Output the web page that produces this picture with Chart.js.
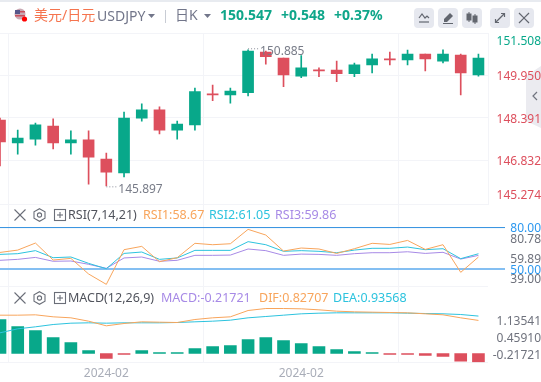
<!DOCTYPE html>
<html><head><meta charset="utf-8">
<script src="https://cdn.jsdelivr.net/npm/chart.js@4"></script>
<style>
html,body{margin:0;padding:0;background:#fff;width:541px;height:382px;overflow:hidden}
body{font-family:"Noto Sans","Noto Sans CJK SC",sans-serif;position:relative}
#c{position:absolute;left:0;top:0;z-index:2}
#tab{position:absolute;left:0;top:0;z-index:1}
.t{position:absolute;white-space:nowrap;z-index:3;line-height:16px}
.strip{position:absolute;left:0;top:0;width:541px;height:2px;background:#e8ebf0;z-index:3}
.btn{position:absolute;top:8px;width:20px;height:20px;border-radius:4px;background:#e6e8ef;z-index:3}
.ic{position:absolute;z-index:3}
</style></head><body>
<div class="strip"></div>
<svg id="tab" width="541" height="382"><polygon points="541,66 526,76 526,121 541,128" fill="#ebebf0"/><polyline points="537,92 533,96 537,100" fill="none" stroke="#70747f" stroke-width="1.2"/></svg>
<canvas id="c" width="541" height="382"></canvas>

<svg class="ic" style="left:13px;top:8px" width="16" height="16"><circle cx="7" cy="6" r="5.5" fill="#c9a9b4"/><rect x="2" y="3" width="10" height="1.5" fill="#c94f5c"/><rect x="2" y="7" width="10" height="1.5" fill="#c94f5c"/><rect x="2" y="2" width="5" height="4" fill="#56568a"/><circle cx="11.5" cy="11" r="2.6" fill="#f00"/></svg>
<div class="t" style="left:34px;top:7px;font-size:14px;color:#f5744e">美元/日元</div>
<div class="t" style="left:97px;top:8px;font-size:14px;color:#72768a">USDJPY</div>
<svg class="ic" style="left:148px;top:14px" width="8" height="5"><polygon points="0,0 7,0 3.5,4" fill="#72768a"/></svg>
<div class="ic" style="left:165px;top:10px;width:1px;height:13px;background:#c8ccd4"></div>
<div class="t" style="left:175px;top:7px;font-size:14px;color:#72768a">日K</div>
<svg class="ic" style="left:204px;top:14px" width="8" height="5"><polygon points="0,0 7,0 3.5,4" fill="#72768a"/></svg>
<div class="t" style="left:220px;top:7px;font-size:14px;font-weight:700;color:#0fa68a">150.547</div>
<div class="t" style="left:281px;top:7px;font-size:14px;font-weight:700;color:#0fa68a">+0.548</div>
<div class="t" style="left:334px;top:7px;font-size:14px;font-weight:700;color:#0fa68a">+0.37%</div>

<div class="btn" style="left:414px"></div><div class="btn" style="left:438px"></div><div class="btn" style="left:462px"></div><div class="btn" style="left:490px"></div><div class="btn" style="left:514px"></div>
<svg class="ic" style="left:414px;top:8px" width="20" height="20" fill="none" stroke="#62666f" stroke-width="1.2"><polyline points="5,10 8,6 11,10 13,8 15,10"/><line x1="5" y1="14" x2="15" y2="14"/></svg>
<svg class="ic" style="left:438px;top:8px" width="20" height="20"><polygon points="6,11 12,5 15,8 9,14 6,14" fill="#62666f"/><line x1="5" y1="15.5" x2="15" y2="15.5" stroke="#62666f"/></svg>
<svg class="ic" style="left:462px;top:8px" width="20" height="20" fill="#62666f" stroke="#62666f"><line x1="7" y1="4" x2="7" y2="14"/><rect x="5" y="6" width="4" height="6"/><line x1="13" y1="6" x2="13" y2="16"/><rect x="11" y="8" width="4" height="6"/></svg>
<svg class="ic" style="left:490px;top:8px" width="20" height="20" fill="none" stroke="#62666f" stroke-width="1.2"><line x1="6" y1="14" x2="14" y2="6"/><polyline points="11,5.5 14.5,5.5 14.5,9"/><polyline points="5.5,11 5.5,14.5 9,14.5"/></svg>
<svg class="ic" style="left:514px;top:8px" width="20" height="20" stroke="#62666f" stroke-width="1.2"><line x1="5" y1="5" x2="15" y2="15"/><line x1="15" y1="5" x2="5" y2="15"/></svg>

<svg class="ic" style="left:13px;top:208px" width="56" height="14" fill="none" stroke="#6a6e78" stroke-width="1.1"><line x1="1.5" y1="1.5" x2="12.5" y2="12.5"/><line x1="12.5" y1="1.5" x2="1.5" y2="12.5"/><polygon points="26.5,0.7 32,3.8 32,10.2 26.5,13.3 21,10.2 21,3.8"/><circle cx="26.5" cy="7" r="2.1"/><rect x="41.5" y="1.5" width="11" height="11"/><line x1="47" y1="4" x2="47" y2="10"/><line x1="44" y1="7" x2="50" y2="7"/></svg>
<div class="t" style="left:68px;top:207px;font-size:12.5px;color:#50535c">RSI(7,14,21)</div>
<div class="t" style="left:143px;top:207px;font-size:12.5px;color:#f8a55c">RSI1:58.67</div>
<div class="t" style="left:209px;top:207px;font-size:12.5px;color:#2dc3de">RSI2:61.05</div>
<div class="t" style="left:275px;top:207px;font-size:12.5px;color:#a78ae6">RSI3:59.86</div>

<svg class="ic" style="left:13px;top:291px" width="56" height="14" fill="none" stroke="#6a6e78" stroke-width="1.1"><line x1="1.5" y1="1.5" x2="12.5" y2="12.5"/><line x1="12.5" y1="1.5" x2="1.5" y2="12.5"/><polygon points="26.5,0.7 32,3.8 32,10.2 26.5,13.3 21,10.2 21,3.8"/><circle cx="26.5" cy="7" r="2.1"/><rect x="41.5" y="1.5" width="11" height="11"/><line x1="47" y1="4" x2="47" y2="10"/><line x1="44" y1="7" x2="50" y2="7"/></svg>
<div class="t" style="left:68px;top:290px;font-size:12.5px;color:#50535c">MACD(12,26,9)</div>
<div class="t" style="left:161px;top:290px;font-size:12.5px;color:#a78ae6">MACD:-0.21721</div>
<div class="t" style="left:259px;top:290px;font-size:12.5px;color:#f8a55c">DIF:0.82707</div>
<div class="t" style="left:333px;top:290px;font-size:12.5px;color:#2dc3de">DEA:0.93568</div>

<script>
const open_ = [148.31,147.47,147.61,148.09,147.47,147.58,146.88,146.37,148.38,148.68,147.94,148.13,149.25,149.23,149.31,150.80,150.58,149.92,150.14,150.14,150.01,150.33,150.55,150.51,150.73,150.47,150.69,149.96];
const close_= [147.51,147.65,148.13,147.47,147.58,146.95,146.40,148.38,148.68,147.94,148.16,149.35,149.23,149.37,150.84,150.63,149.96,150.22,150.11,150.01,150.33,150.55,150.51,150.73,150.55,150.73,150.04,150.58];
const high_ = [148.38,147.94,148.20,148.35,147.91,147.91,147.10,148.60,148.90,148.79,148.27,149.48,149.59,149.48,150.885,150.84,150.58,150.67,150.22,150.47,150.40,150.73,150.80,150.87,150.73,150.88,150.73,150.73];
const low_  = [146.63,147.06,147.39,147.25,147.06,145.96,145.897,146.22,148.27,147.80,147.61,147.94,149.02,148.93,149.19,150.36,149.53,149.86,149.90,149.72,149.90,150.04,150.33,150.33,150.11,150.40,149.23,149.92];
const rsi1 = [62.0,63.7,68.8,56.5,57.7,46.4,38.9,64.0,66.4,55.3,58.2,68.6,67.6,68.3,78.7,74.6,63.0,65.2,64.5,61.3,64.7,68.6,67.8,70.7,64.2,67.6,47.6,58.67];
const rsi2 = [60.6,61.1,63.3,58.2,58.7,54.1,50.2,61.3,62.3,57.0,58.0,63.5,63.5,63.5,69.8,67.6,62.8,63.3,62.8,61.8,63.7,65.0,65.0,65.9,64.0,64.7,57.5,61.05];
const rsi3 = [56.3,57.0,58.4,55.6,55.8,53.4,50.5,58.0,58.7,55.6,56.3,59.9,59.9,60.1,64.5,63.3,59.9,60.8,60.6,59.9,61.1,61.8,61.8,62.5,61.3,62.1,57.2,59.86];
const macdHist = [0.85,0.675,0.575,0.40,0.275,0.075,-0.125,-0.017,0.075,0.017,0.017,0.125,0.175,0.20,0.35,0.40,0.325,0.25,0.175,0.10,0.05,0.025,-0.017,-0.017,-0.05,-0.075,-0.19,-0.21721];
const dif  = [0.958,0.958,0.967,0.917,0.892,0.808,0.692,0.75,0.792,0.783,0.775,0.85,0.892,0.917,1.075,1.125,1.125,1.117,1.092,1.058,1.042,1.033,1.025,1.017,0.992,0.967,0.892,0.82707];
const dea  = [0.517,0.617,0.667,0.725,0.758,0.767,0.758,0.767,0.767,0.767,0.775,0.792,0.808,0.833,0.892,0.925,0.958,0.992,1.008,1.017,1.017,1.017,1.017,1.008,1.0,0.992,0.975,0.93568];
const rsiLevels = [80,50];
const priceLabels = ['151.508','149.950','148.391','146.832','145.274'];
const rsiLabels = ['80.00','80.78','59.89','50.00','39.00'];
const macdLabels = ['1.13541','0.45910','-0.21721'];
const xTickIndex = [6,17];
const xTickLabels = ['2024-02','2024-02'];

const UP='#08a88a', DOWN='#dd4f5d', GRID='#f3f4f8', GREY='#6f727d';
const idx = open_.map((_,i)=>i);
const colors = open_.map((o,i)=>close_[i]>=o?UP:DOWN);
const histColors = macdHist.map(v=>v>=0?UP:DOWN);
const X_MAX = 488/17.72, X_LEVEL_END = 505/17.72;
const LABEL_NUDGE_PX = 1.5;

function lineSet(values,color,axis){
  return {type:'line',data:idx.map(i=>({x:i,y:values[i]})),borderColor:color,borderWidth:1,pointRadius:0,tension:0,yAxisID:axis,order:1};
}
function axis(o){
  const nudge = LABEL_NUDGE_PX*(o.max-o.min)/o.weight, nGrid = o.gridTicks.length;
  return {type:'linear',position:'right',stack:'panes',stackWeight:o.weight,weight:o.order,min:o.min,max:o.max,
    afterBuildTicks:a=>{a.ticks=o.gridTicks.concat(o.labelAt.map(v=>v-nudge)).map(v=>({value:v}));},
    afterFit:a=>{a.width=53;a.paddingTop=0;a.paddingBottom=0;},
    border:{display:!!o.border,color:GRID},
    grid:{drawTicks:false,tickLength:0,color:c=>c.index<nGrid?GRID:'rgba(0,0,0,0)'},
    ticks:{autoSkip:false,crossAlign:'far',padding:o.padding,font:{family:'"Noto Sans"',size:12},
      color:c=>o.colors[c.index-nGrid]||GREY,
      callback:(v,i)=>i<nGrid?'':o.labels[i-nGrid]}};
}

const extremes={id:'extremes',afterDatasetsDraw(ch){
  const {x,y}=ch.scales,ctx=ch.ctx;
  const hi=high_.indexOf(Math.max(...high_)),lo=low_.indexOf(Math.min(...low_));
  [[hi,high_[hi],-0.5],[lo,low_[lo],1.5]].forEach(([i,v,dy])=>{
    const px=x.getPixelForValue(i),py=y.getPixelForValue(v)+dy;
    ctx.save();ctx.strokeStyle='#8a8e99';ctx.setLineDash([1,2]);ctx.beginPath();ctx.moveTo(px,py-0.5);ctx.lineTo(px+11,py-0.5);ctx.stroke();
    ctx.fillStyle='#787c88';ctx.font='12px "Noto Sans"';ctx.textBaseline='middle';ctx.fillText(v.toFixed(3),px+12,py+2);ctx.restore();
  });
}};

new Chart(document.getElementById('c'),{
  type:'bar',
  data:{datasets:[
    {data:idx.map(i=>({x:i,y:[low_[i],high_[i]]})),backgroundColor:colors,barThickness:1,grouped:false,yAxisID:'y',order:3},
    {data:idx.map(i=>({x:i,y:[open_[i],close_[i]]})),backgroundColor:colors,barThickness:11,minBarLength:1,grouped:false,yAxisID:'y',order:2},
    {type:'line',data:[{x:0,y:rsiLevels[0]},{x:X_LEVEL_END,y:rsiLevels[0]}],borderColor:'#2f8fdf',borderWidth:1,pointRadius:0,yAxisID:'yRsi',clip:false,order:4},
    {type:'line',data:[{x:0,y:rsiLevels[1]},{x:X_LEVEL_END,y:rsiLevels[1]}],borderColor:'#84bff2',borderWidth:2,pointRadius:0,yAxisID:'yRsi',clip:false,order:4},
    lineSet(rsi1,'#f8a55c','yRsi'),lineSet(rsi2,'#2dc3de','yRsi'),lineSet(rsi3,'#a78ae6','yRsi'),
    {data:idx.map(i=>({x:i,y:macdHist[i]})),backgroundColor:histColors,barThickness:12,minBarLength:1,grouped:false,yAxisID:'yMacd',order:2},
    lineSet(dif,'#f8a55c','yMacd'),lineSet(dea,'#2dc3de','yMacd')
  ]},
  options:{responsive:false,animation:false,
    layout:{padding:{top:33,left:0,right:0,bottom:0}},
    plugins:{legend:{display:false},tooltip:{enabled:false}},
    scales:{
      x:{type:'linear',min:0,max:X_MAX,offset:false,
        afterBuildTicks:a=>{a.ticks=xTickIndex.map(v=>({value:v}));},
        afterFit:a=>{a.height=19.7;a.paddingLeft=0;a.paddingRight=0;},
        border:{display:false},
        grid:{color:GRID,drawTicks:false,tickLength:0},
        ticks:{autoSkip:false,maxRotation:0,padding:4,color:'#a9adb8',font:{family:'"Noto Sans"',size:12},callback:(v,i)=>xTickLabels[i]}},
      y:axis({weight:171.3,order:1,min:145.22,max:151.50,padding:4,border:true,
        gridTicks:[151.50,149.95,148.391,146.832,145.22],
        labelAt:[151.244,149.95,148.391,146.832,145.597],
        labels:priceLabels,
        colors:[UP,DOWN,DOWN,DOWN,DOWN]}),
      yRsi:axis({weight:82.4,order:2,min:37.2,max:96.85,padding:17,
        gridTicks:[37.2],
        labelAt:[80,72.63,58.17,50,43.71],
        labels:rsiLabels,
        colors:['#2b97ef',GREY,GREY,'#2b97ef',GREY]}),
      yMacd:axis({weight:75.6,order:3,min:-0.22,max:1.67,padding:0,
        gridTicks:[-0.22],
        labelAt:[0.84,0.415,-0.01],
        labels:macdLabels,
        colors:[GREY,GREY,GREY]})
    }},
  plugins:[extremes]
});
</script>
</body></html>
